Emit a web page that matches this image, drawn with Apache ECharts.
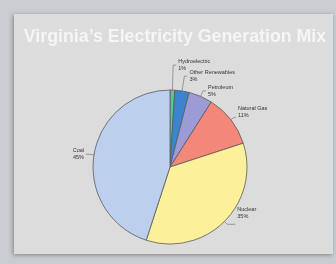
<!DOCTYPE html>
<html><head><meta charset="utf-8">
<script src="https://cdn.jsdelivr.net/npm/echarts@6/dist/echarts.min.js"></script>
<style>html,body{margin:0;padding:0;background:#c9ccd0;}#c{width:336px;height:264px;}</style>
</head><body><div id="c"></div>
<script>
var titleText = "Virginia\u2019s Electricity Generation Mix";
var categories = ["Hydroelectric", "Other Renewables", "Petroleum", "Natural Gas", "Nuclear", "Coal"];
var values = [1, 3, 5, 11, 35, 45];
var colors = ["#5cc596", "#3b84cf", "#9d9bd6", "#f2877a", "#fdf09b", "#bccfec"];
var lineLen = [[25, 3], [15, 3], [6, 3], [4, 2], [4, 8], [5, 3]];
var labelShiftY = [0, 0, 0, -5, -11, 0];

var chart = echarts.init(document.getElementById('c'), null, {renderer: 'canvas'});
var data = categories.map(function (c, i) {
  return {
    name: c, value: values[i],
    itemStyle: {color: colors[i]},
    labelLine: {length: lineLen[i][0], length2: lineLen[i][1]}
  };
});
chart.setOption({
  backgroundColor: '#c9ccd0',
  graphic: [{
    type: 'rect', z: -10, silent: true,
    shape: {x: 14, y: 14, width: 319, height: 240},
    style: {fill: '#dcdcdc', shadowColor: 'rgba(0,0,0,0.35)', shadowBlur: 4, shadowOffsetX: -1, shadowOffsetY: 1}
  }],
  title: {
    text: titleText, left: 170, top: 23, textAlign: 'center',
    textStyle: {color: '#f5f5f5', fontSize: 17.8, fontWeight: 'bold', fontFamily: 'Liberation Sans, Arial, sans-serif'}
  },
  series: [{
    type: 'pie', center: [170, 167], radius: 77, startAngle: 90, clockwise: true,
    animation: false, avoidLabelOverlap: false, minShowLabelAngle: 0,
    data: data,
    itemStyle: {borderColor: '#5a5a5a', borderWidth: 0.8},
    label: {
      show: true, position: 'outside', formatter: '{b}\n{d}%',
      fontSize: 5.5, lineHeight: 7, color: '#333', fontFamily: 'Liberation Sans, Arial, sans-serif',
      distanceToLabelLine: 2
    },
    labelLayout: function (p) {
      return {hideOverlap: false, moveOverlap: null, dy: labelShiftY[p.dataIndex]};
    },
    labelLine: {show: true, lineStyle: {color: '#666', width: 0.6}, smooth: false},
    emphasis: {disabled: true}
  }]
});
</script></body></html>
